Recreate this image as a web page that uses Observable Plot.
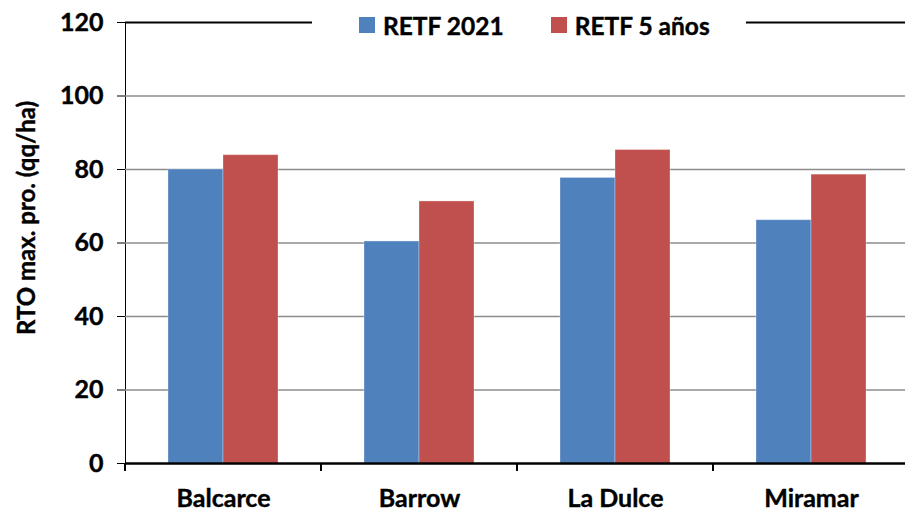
<!DOCTYPE html>
<html>
<head>
<meta charset="utf-8">
<script src="https://cdn.jsdelivr.net/npm/d3@7"></script>
<script src="https://cdn.jsdelivr.net/npm/@observablehq/plot@0.6"></script>
<style>
  body { margin: 0; background: white; }
  #wrap { position: relative; width: 905px; height: 511px; font-family: Lato, "Open Sans", sans-serif; font-weight: bold; }
  #legend { position: absolute; left: 312px; top: 12px; width: 434px; height: 26px; background: white; display: flex; align-items: center; font-size: 24.5px; color: black; -webkit-text-stroke: 0.4px black; }
  .sw { display: inline-block; width: 16px; height: 16px; margin-right: 8px; }
  .item { display: flex; align-items: center; }
</style>
</head>
<body>
<div id="wrap"></div>
<script>
const cities = ["Balcarce", "Barrow", "La Dulce", "Miramar"];
const series = ["RETF 2021", "RETF 5 años"];
const retf2021 = [80.0, 60.4, 77.7, 66.2];
const retf5 = [83.9, 71.3, 85.3, 78.6];
const yTicks = [0, 20, 40, 60, 80, 100, 120];
const colors = ["#4F81BD", "#C0504D"];
const yLabel = "RTO max. pro. (qq/ha)";

const data = cities.flatMap((c, i) => [
  {city: c, serie: series[0], value: retf2021[i]},
  {city: c, serie: series[1], value: retf5[i]}
]);

const plot = Plot.plot({
  width: 905,
  height: 511,
  marginLeft: 123,
  marginRight: -5,
  marginTop: 22,
  marginBottom: 48,
  style: {fontFamily: "Lato, 'Open Sans', sans-serif", fontWeight: "bold", fontSize: "25px", color: "black", background: "white", overflow: "visible"},
  facet: {data, x: "city"},
  fx: {domain: cities, paddingInner: 0, paddingOuter: 0, label: null, axis: "bottom", tickSize: 0, tickPadding: 26},
  x: {domain: series, paddingInner: 0, paddingOuter: 0.756, axis: null},
  y: {domain: [0, 120], ticks: yTicks, tickSize: 8, tickPadding: 14, line: true, label: null},
  color: {domain: series, range: colors},
  marks: [
    Plot.ruleY(yTicks.filter(t => t > 0 && t < 120), {stroke: "#8c8c8c", strokeWidth: 1.3}),
    Plot.barY(data, {x: "serie", y: "value", fill: "serie", stroke: "white", strokeOpacity: 0.3, strokeWidth: 1}),
    Plot.ruleY([120], {stroke: "black", strokeWidth: 2}),
    Plot.ruleY([0], {stroke: "black", strokeWidth: 2.5})
  ]
});

const svg = d3.select(plot.tagName.toLowerCase() === "svg" ? plot : plot.querySelector("svg"));
svg.selectAll("text")
  .style("font-size", "25px").style("font-weight", "bold")
  .attr("stroke", "black").attr("stroke-width", 0.4);

// tick marks at the category band boundaries, placed with the fx scale
const fx = plot.scale("fx");
const y = plot.scale("y");
const y0 = y.apply ? y.apply(0) : 463;
const n = cities.length;
const r0 = fx.range[0], r1 = fx.range[1];
const step = (r1 - r0) / n;
const bounds = d3.range(n + 1).map(i => i < n && fx.apply ? fx.apply(cities[i]) : r0 + i * step);
svg.append("g").selectAll("line").data(bounds).join("line")
  .attr("x1", d => d).attr("x2", d => d)
  .attr("y1", y0).attr("y2", y0 + 8)
  .attr("stroke", "black").attr("stroke-width", 2);

// y axis title
svg.append("text")
  .attr("transform", "translate(35,218) rotate(-90)")
  .attr("text-anchor", "middle")
  .style("font-size", "24px").style("font-weight", "bold")
  .attr("fill", "black").attr("stroke", "black").attr("stroke-width", 0.4)
  .text(yLabel);

const wrap = document.getElementById("wrap");
wrap.appendChild(plot);

const legend = document.createElement("div");
legend.id = "legend";
series.forEach((s, i) => {
  const it = document.createElement("div");
  it.className = "item";
  it.style.marginLeft = "47px";
  const sw = document.createElement("span");
  sw.className = "sw";
  sw.style.background = colors[i];
  it.appendChild(sw);
  it.appendChild(document.createTextNode(s));
  legend.appendChild(it);
});
wrap.appendChild(legend);
</script>
</body>
</html>
